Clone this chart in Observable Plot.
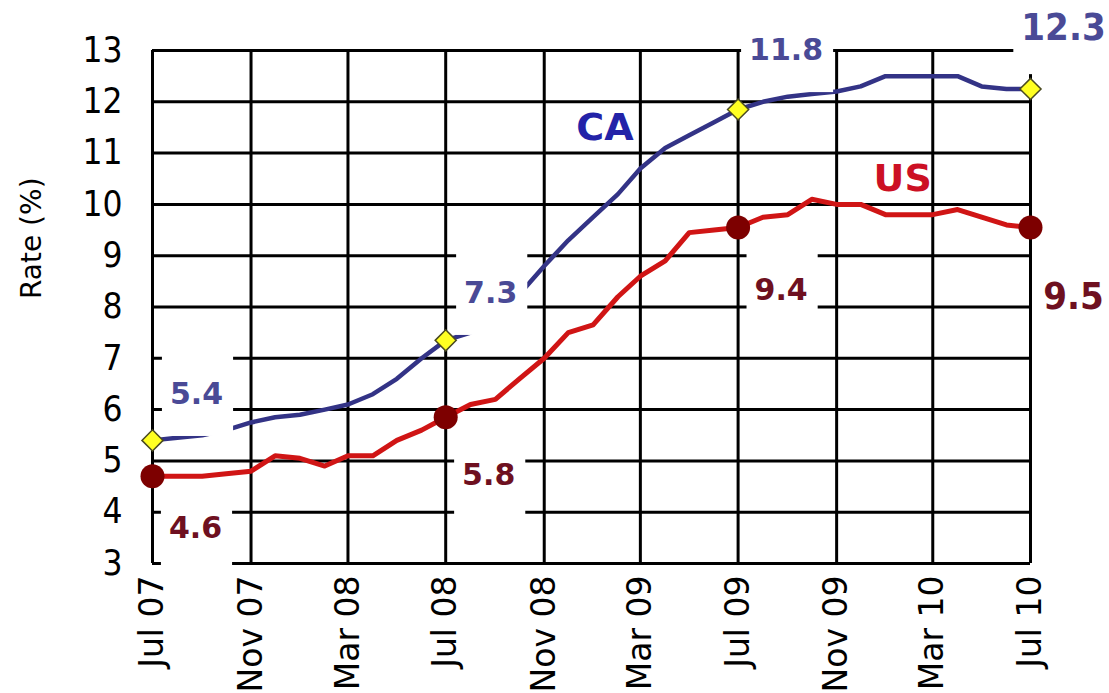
<!DOCTYPE html>
<html><head><meta charset="utf-8">
<script src="https://cdn.jsdelivr.net/npm/d3@7"></script>
<script src="https://cdn.jsdelivr.net/npm/@observablehq/plot@0.6"></script>
<style>
html,body{margin:0;padding:0;background:#fff;}
#chart svg{display:block;}
g[aria-label="y-axis tick label"]{font-family:"DejaVu Sans Condensed","DejaVu Sans",sans-serif;font-stretch:condensed;}
</style></head><body><div id="chart"></div>
<script>
const months = ["2007-07","2007-08","2007-09","2007-10","2007-11","2007-12",
  "2008-01","2008-02","2008-03","2008-04","2008-05","2008-06","2008-07","2008-08","2008-09","2008-10","2008-11","2008-12",
  "2009-01","2009-02","2009-03","2009-04","2009-05","2009-06","2009-07","2009-08","2009-09","2009-10","2009-11","2009-12",
  "2010-01","2010-02","2010-03","2010-04","2010-05","2010-06","2010-07"];
const caRate = [5.4,5.45,5.5,5.6,5.75,5.85,
  5.9,6.0,6.1,6.3,6.6,7.0,7.35,7.5,7.9,8.25,8.8,9.3,
  9.75,10.2,10.7,11.1,11.35,11.6,11.85,12.0,12.1,12.15,12.2,12.3,
  12.5,12.5,12.5,12.5,12.3,12.25,12.25];
const usRate = [4.7,4.7,4.7,4.75,4.8,5.1,
  5.05,4.9,5.1,5.1,5.4,5.6,5.85,6.1,6.2,6.6,7.0,7.5,
  7.65,8.2,8.6,8.9,9.45,9.5,9.55,9.75,9.8,10.1,10.0,10.0,
  9.8,9.8,9.8,9.9,9.75,9.6,9.55];
const tickMonths = ["2007-07","2007-11","2008-03","2008-07","2008-11","2009-03","2009-07","2009-11","2010-03","2010-07"];
const yTicks = [3,4,5,6,7,8,9,10,11,12,13];
const markerMonths = ["2007-07","2008-07","2009-07","2010-07"];
const caLabels = ["5.4","7.3","11.8","12.3"];
const usLabels = ["4.6","5.8","9.4","9.5"];
const seriesNames = ["CA","US"];
const seriesNameMonths = ["2009-02","2009-12"];
const axisTitle = "Rate (%)";

const pm = d3.utcParse("%Y-%m");
const rows = months.map((m,i)=>({date:pm(m), CA:caRate[i], US:usRate[i]}));
const findRow = m => rows.find(r => +r.date === +pm(m));
const markRows = markerMonths.map(findRow);

// label styling: [dx, dy, fontSize]
const caStyle = [[44,-46,30],[45,-47,30],[48,-59,30],[33,-61,38]];
const usStyle = [[43,52,30],[43,58,30],[43,63,30],[43,69,38]];

const labelMarks = [];
caLabels.forEach((t,i)=>{
  const [dx,dy,fs] = caStyle[i];
  labelMarks.push(Plot.text([{date:markRows[i].date, v:markRows[i].CA, t}],
    {x:"date", y:"v", text:"t", dx, dy, fontSize:fs, fontWeight:"bold", fill:"#4a4a96"}));
});
usLabels.forEach((t,i)=>{
  const [dx,dy,fs] = usStyle[i];
  labelMarks.push(Plot.text([{date:markRows[i].date, v:markRows[i].US, t}],
    {x:"date", y:"v", text:"t", dx, dy, fontSize:fs, fontWeight:"bold", fill:"#6e1020"}));
});
const caName = findRow(seriesNameMonths[0]);
const usName = findRow(seriesNameMonths[1]);

const chart = Plot.plot({
  width:1109, height:693,
  marginLeft:152, marginRight:79, marginTop:50, marginBottom:130,
  style:{fontFamily:"'DejaVu Sans', sans-serif", background:"white", color:"black"},
  x:{type:"utc", domain:[pm(months[0]), pm(months[months.length-1])]},
  y:{domain:[3,13]},
  marks:[
    Plot.ruleY(yTicks,{stroke:"black", strokeWidth:3}),
    Plot.ruleX(tickMonths.map(pm),{stroke:"black", strokeWidth:3}),
    Plot.axisX({ticks:tickMonths.map(pm), tickFormat:d3.utcFormat("%b %y"), tickRotate:-90, tickSize:0, tickPadding:12, fontSize:33, label:null}),
    Plot.axisY({ticks:yTicks, tickSize:0, tickPadding:30, fontSize:35, label:null}),
    Plot.text([axisTitle], {frameAnchor:"left", rotate:-90, dx:-120, dy:-8, fontSize:28}),
    Plot.line(rows,{x:"date", y:"CA", stroke:"#333386", strokeWidth:4.5}),
    Plot.line(rows,{x:"date", y:"US", stroke:"#d01515", strokeWidth:5}),
    ...labelMarks,
    Plot.text([{date:caName.date, v:caName.CA, t:seriesNames[0]}], {x:"date", y:"v", text:"t", dx:-13, dy:-66, fontSize:38, fontWeight:"bold", fill:"#2323a8"}),
    Plot.text([{date:usName.date, v:usName.US, t:seriesNames[1]}], {x:"date", y:"v", text:"t", dx:42, dy:-26, fontSize:38, fontWeight:"bold", fill:"#cc1024"}),
    Plot.dot(markRows,{x:"date", y:"US", r:12, fill:"#7d0000"}),
    Plot.dot(markRows,{x:"date", y:"CA", symbol:"diamond2", r:9.5, fill:"#ffff22", stroke:"#4a4a20", strokeWidth:1.5})
  ]
});
document.getElementById("chart").append(chart);
// white label boxes behind the value labels
const bigLabels = new Set([caLabels[3], usLabels[3]]);
const allLabels = new Set([...caLabels, ...usLabels]);
Array.from(chart.querySelectorAll("text"))
  .filter(t => allLabels.has(t.textContent))
  .forEach(t => {
    if (bigLabels.has(t.textContent)) {
      t.style.fontFamily = '"DejaVu Sans Condensed","DejaVu Sans",sans-serif';
      t.style.fontStretch = "condensed";
    }
    const b = t.getBBox();
    const r = document.createElementNS("http://www.w3.org/2000/svg","rect");
    r.setAttribute("x", b.x - 8);
    r.setAttribute("y", b.y - 22);
    r.setAttribute("width", b.width + 18);
    r.setAttribute("height", b.height + 47);
    r.setAttribute("fill", "white");
    r.setAttribute("stroke", "none");
    const tr = t.getAttribute("transform");
    if (tr) r.setAttribute("transform", tr);
    t.parentNode.insertBefore(r, t);
  });
</script></body></html>
